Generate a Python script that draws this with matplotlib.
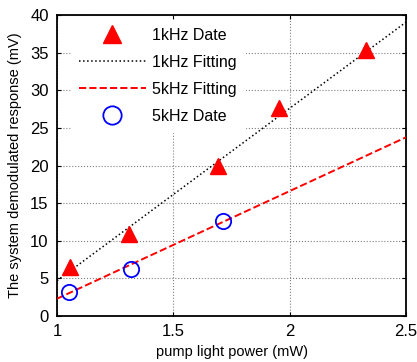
import matplotlib
matplotlib.use("Agg")
import matplotlib.pyplot as plt
import numpy as np

plt.rcParams['font.family'] = ['Liberation Sans', 'DejaVu Sans']

# data
p1k = [1.055, 1.31, 1.69, 1.955, 2.33]
v1k = [6.5, 10.9, 20.0, 27.6, 35.3]
p5k = [1.05, 1.32, 1.715]
v5k = [3.2, 6.2, 12.6]

# fitted lines: slope, intercept
fit1k = [22.9, -18.2]
fit5k = [14.3, -12.0]
xfit = [1.0, 2.5]

fig = plt.figure(figsize=(4.17, 3.62), dpi=100)
ax = fig.add_axes([57/417, 1-316/362, 349/417, 301/362])

xf = np.array(xfit)
h1, = ax.plot(p1k, v1k, '^', color='red', markersize=11, markeredgecolor='red', zorder=4)
h2, = ax.plot(xf, fit1k[0]*xf + fit1k[1], ':', color='black', linewidth=1.1, zorder=3)
h3, = ax.plot(xf, fit5k[0]*xf + fit5k[1], '--', color='red', linewidth=1.4, zorder=3)
h4, = ax.plot(p5k, v5k, 'o', markerfacecolor='none', markeredgecolor='blue', markersize=11,
              markeredgewidth=1.3, zorder=4)

ax.set_xlim(1, 2.5)
ax.set_ylim(0, 40)
ax.set_xticks([1, 1.5, 2, 2.5])
ax.set_xticklabels(['1', '1.5', '2', '2.5'])
ax.set_yticks(range(0, 41, 5))
ax.grid(True, linestyle=':', color='gray', linewidth=0.8)
ax.set_axisbelow(True)
ax.tick_params(direction='in', labelsize=12, top=True, right=True, length=3, pad=6)
for s in ax.spines.values():
    s.set_linewidth(1.3)

ax.set_xlabel('pump light power (mW)', fontsize=10.5, labelpad=4)
ax.set_ylabel('The system demodulated response (mV)', fontsize=10.5, labelpad=6)

leg = ax.legend([h1, h2, h3, h4], ['1kHz Date', '1kHz Fitting', '5kHz Fitting', '5kHz Date'],
                loc='upper left', bbox_to_anchor=(9/349, 1), fontsize=11.5, frameon=True,
                fancybox=False, edgecolor='white', framealpha=1, handlelength=4.2,
                handletextpad=0.4, borderpad=0.5, borderaxespad=0.3, labelspacing=0.75,
                markerscale=1.2)
leg.set_zorder(5)

fig.savefig('out.png', dpi=100)
